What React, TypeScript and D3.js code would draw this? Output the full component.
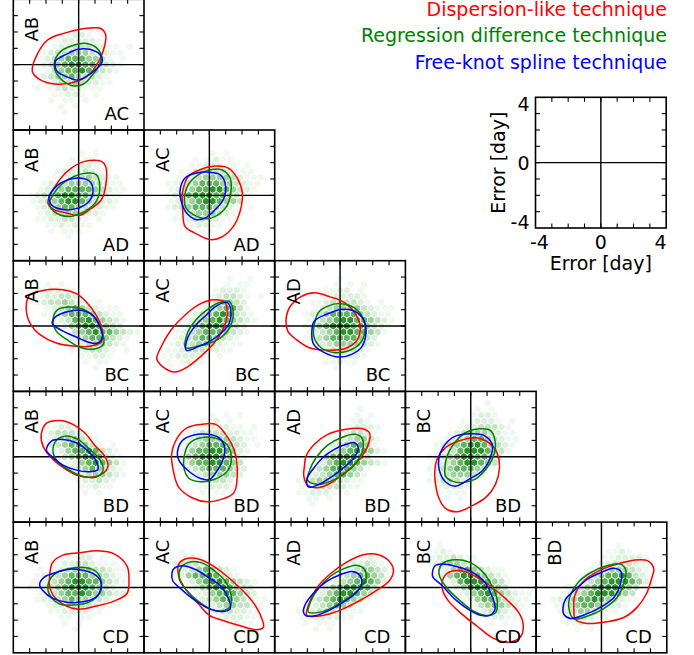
import * as d3 from "d3";
import { useEffect, useRef } from "react";

// variables on the x axis (one per column) and y axis (one per row)
const colVars = ["AB", "AC", "AD", "BC", "BD"];
const rowVars = ["AC", "AD", "BC", "BD", "CD"];
const techniques = ["Dispersion-like technique", "Regression difference technique", "Free-knot spline technique"];
const legendTicks = [-4, 0, 4];

// contour outlines in error days, panels ordered row by row, left to right
const dispersion = [
  [[-2.84,-0.39],[-1.98,1.45],[-0.76,1.96],[0.27,2.2],[1.39,2.2],[1.65,1.86],[1.59,1.14],[1.29,0.33],[0.67,-0.59],[-0.04,-1.0],[-1.27,-1.2],[-2.39,-0.9]],
  [[-1.88,-0.47],[-1.16,0.96],[-0.45,1.67],[0.37,2.08],[1.39,2.08],[1.65,1.78],[1.65,0.55],[1.39,-0.27],[0.67,-0.88],[0.06,-1.22],[-0.76,-1.08],[-1.57,-0.84]],
  [[-1.49,-1.9],[-1.63,-0.88],[-1.63,0.24],[-1.29,1.16],[-0.57,1.57],[0.24,1.78],[1.16,1.67],[1.71,1.06],[2.02,0.14],[1.88,-0.98],[1.47,-1.9],[0.76,-2.55],[0.04,-2.71],[-0.88,-2.31]],
  [[-3.2,1.37],[-3.0,1.88],[-2.18,2.18],[-0.96,2.22],[-0.14,1.98],[0.47,1.47],[1.08,0.65],[1.45,-0.27],[1.39,-0.98],[0.67,-1.24],[-0.35,-1.22],[-1.37,-1.04],[-2.39,-0.51],[-2.9,0.04],[-3.16,0.65]],
  [[-3.22,-2.0],[-2.98,-1.33],[-2.37,-0.27],[-1.45,0.71],[-0.53,1.37],[0.29,1.61],[0.94,1.47],[1.1,0.86],[0.86,-0.16],[0.29,-1.04],[-0.53,-1.86],[-1.35,-2.51],[-2.12,-2.82],[-2.88,-2.47]],
  [[-3.31,0.31],[-3.1,1.12],[-2.39,1.8],[-1.57,2.04],[-0.65,1.8],[0.27,1.43],[1.0,0.65],[1.24,-0.2],[1.0,-0.92],[0.27,-1.39],[-0.96,-1.47],[-1.88,-1.33],[-2.69,-0.82],[-3.2,-0.31]],
  [[-2.29,1.37],[-1.98,2.04],[-1.16,2.22],[-0.35,1.98],[0.37,1.47],[0.98,0.71],[1.59,0.04],[1.8,-0.57],[1.45,-1.04],[0.78,-1.24],[0.06,-1.18],[-0.76,-0.78],[-1.57,-0.16],[-2.18,0.65]],
  [[-2.31,0.14],[-1.96,1.16],[-1.35,1.78],[-0.53,1.98],[0.39,1.98],[1.0,1.37],[1.51,0.45],[1.71,-0.71],[1.51,-2.2],[0.9,-2.55],[-0.12,-2.76],[-1.06,-2.51],[-1.88,-1.86],[-2.2,-0.88]],
  [[-2.18,-0.57],[-2.08,0.04],[-1.57,0.76],[-0.76,1.37],[0.27,1.67],[1.29,1.73],[1.8,1.47],[1.69,0.65],[1.08,-0.27],[0.27,-0.98],[-0.55,-1.59],[-1.37,-1.9],[-1.98,-1.73],[-2.22,-1.18]],
  [[-2.2,-0.88],[-2.06,-0.16],[-1.55,0.55],[-0.73,0.96],[0.29,1.16],[1.1,0.86],[1.61,0.24],[1.76,-0.67],[1.51,-1.69],[0.94,-2.47],[0.12,-2.98],[-0.84,-3.37],[-1.55,-3.16],[-1.96,-2.51],[-2.16,-1.65]],
  [[-1.78,0.65],[-1.61,1.51],[-0.96,1.98],[0.06,2.12],[1.18,2.24],[2.2,2.04],[2.96,1.31],[3.08,0.55],[2.96,-0.37],[2.2,-0.82],[1.08,-1.14],[-0.04,-1.33],[-0.86,-1.08],[-1.57,-0.47],[-1.78,0.08]],
  [[-1.88,1.43],[-1.43,1.76],[-0.61,1.73],[0.2,1.33],[1.02,0.73],[1.84,0.0],[2.61,-0.82],[3.1,-1.63],[3.31,-2.45],[2.86,-2.59],[1.84,-2.33],[1.02,-2.08],[0.0,-1.71],[-0.71,-0.96],[-1.53,0.0],[-1.88,0.73]],
  [[-2.04,-1.71],[-1.94,-1.1],[-1.43,-0.04],[-0.61,0.82],[0.41,1.55],[1.43,2.0],[2.35,2.0],[3.06,1.55],[3.27,1.02],[3.02,0.41],[2.24,-0.18],[1.22,-0.8],[0.2,-1.31],[-0.61,-1.61],[-1.43,-1.76]],
  [[-1.73,0.41],[-1.43,0.88],[-0.61,1.02],[0.31,0.67],[1.16,0.12],[2.14,-0.69],[2.92,-1.51],[3.2,-2.18],[3.06,-3.0],[2.24,-3.35],[1.37,-3.1],[0.41,-2.39],[-0.61,-1.57],[-1.37,-0.82],[-1.73,-0.14]],
  [[-1.69,-1.29],[-1.63,-0.47],[-0.98,0.49],[-0.06,1.06],[0.96,1.43],[1.98,1.67],[2.84,1.63],[3.2,1.16],[3.04,0.45],[2.76,-0.37],[2.18,-1.22],[1.37,-1.84],[0.35,-2.1],[-0.88,-2.2],[-1.59,-1.96]],
];

const regression = [
  [[-1.47,0.22],[-1.06,0.84],[-0.45,1.14],[0.37,1.31],[1.08,1.04],[1.39,0.53],[1.29,0.02],[0.88,-0.59],[0.27,-1.2],[-0.45,-1.27],[-1.16,-0.8],[-1.47,-0.29]],
  [[-1.78,-0.57],[-1.27,0.45],[-0.65,0.96],[0.27,1.33],[1.08,1.27],[1.29,0.55],[1.08,-0.37],[0.37,-0.98],[-0.55,-1.29],[-1.37,-1.08]],
  [[-1.53,-0.27],[-1.29,0.65],[-0.67,1.27],[0.04,1.57],[0.76,1.57],[1.27,1.06],[1.31,0.14],[1.06,-0.67],[0.55,-1.18],[-0.16,-1.43],[-0.98,-1.18],[-1.43,-0.78]],
  [[-1.57,0.35],[-1.33,0.96],[-0.65,1.16],[0.16,1.06],[0.88,0.65],[1.33,-0.06],[1.53,-1.08],[1.04,-1.39],[0.16,-1.33],[-0.65,-0.88],[-1.37,-0.31]],
  [[-1.45,-1.33],[-1.39,-0.57],[-0.84,0.35],[-0.12,1.0],[0.53,1.41],[1.2,1.51],[1.45,0.96],[1.31,0.04],[0.8,-0.63],[0.08,-1.02],[-0.73,-1.24]],
  [[-1.57,0.1],[-1.33,0.82],[-0.76,1.22],[0.06,1.37],[0.88,1.12],[1.39,0.51],[1.53,-0.31],[1.18,-1.12],[0.47,-1.53],[-0.35,-1.63],[-1.16,-1.33],[-1.61,-0.61]],
  [[-1.57,0.31],[-1.37,1.0],[-0.76,1.27],[-0.04,1.06],[0.67,0.45],[1.29,-0.16],[1.49,-0.84],[1.08,-1.24],[0.27,-1.2],[-0.55,-0.84],[-1.27,-0.31]],
  [[-1.55,-0.02],[-1.24,0.8],[-0.53,1.16],[0.29,1.16],[1.06,0.76],[1.35,-0.06],[1.1,-0.88],[0.29,-1.39],[-0.53,-1.53],[-1.24,-1.33],[-1.55,-0.71]],
  [[-1.98,-1.45],[-1.88,-0.88],[-1.47,-0.06],[-0.76,0.71],[0.06,1.16],[0.88,1.37],[1.33,1.16],[1.39,0.39],[0.98,-0.37],[0.27,-1.04],[-0.55,-1.49],[-1.37,-1.69]],
  [[-1.59,-0.88],[-1.45,0.04],[-0.94,0.92],[-0.33,1.47],[0.49,1.71],[1.2,1.61],[1.51,0.76],[1.31,-0.16],[0.86,-0.84],[0.24,-1.39],[-0.53,-1.59],[-1.14,-1.49],[-1.55,-1.18]],
  [[-1.88,-0.16],[-1.78,0.45],[-1.27,0.96],[-0.55,1.16],[0.37,1.22],[1.08,0.96],[1.39,0.35],[1.29,-0.37],[0.67,-0.88],[-0.35,-1.08],[-1.16,-1.02],[-1.67,-0.61]],
  [[-1.84,0.53],[-1.73,1.22],[-1.22,1.55],[-0.41,1.49],[0.31,1.02],[0.98,0.37],[1.33,-0.45],[1.27,-1.16],[0.82,-1.43],[0.1,-1.33],[-0.71,-0.82],[-1.43,-0.14]],
  [[-1.94,-1.51],[-1.8,-0.86],[-1.39,-0.14],[-0.61,0.67],[0.2,1.14],[1.06,1.35],[1.47,1.14],[1.59,0.53],[1.22,-0.04],[0.45,-0.69],[-0.41,-1.2],[-1.22,-1.51]],
  [[-1.94,1.08],[-1.69,1.49],[-0.92,1.69],[-0.1,1.55],[0.71,0.98],[1.29,0.12],[1.63,-0.86],[1.49,-1.57],[0.92,-1.71],[0.2,-1.47],[-0.71,-0.76],[-1.53,0.06],[-1.9,0.67]],
  [[-2.0,-1.22],[-1.9,-0.47],[-1.39,0.35],[-0.67,0.9],[0.14,1.27],[1.16,1.43],[1.49,1.06],[1.37,0.24],[0.96,-0.61],[0.14,-1.29],[-0.88,-1.76],[-1.69,-1.92]],
];

const spline = [
  [[-1.41,0.22],[-0.76,0.63],[-0.04,0.94],[0.67,0.94],[1.29,0.63],[1.45,0.22],[1.18,-0.18],[0.67,-0.59],[-0.04,-0.94],[-0.76,-0.73],[-1.33,-0.39]],
  [[-1.82,-0.16],[-1.37,0.55],[-0.65,0.96],[0.06,1.06],[0.67,0.86],[0.88,0.24],[0.63,-0.37],[-0.04,-0.78],[-0.86,-0.88],[-1.61,-0.63]],
  [[-1.8,0.24],[-1.49,1.06],[-0.78,1.37],[0.04,1.41],[0.65,1.27],[0.96,0.76],[0.9,-0.16],[0.45,-0.78],[-0.16,-1.33],[-0.78,-1.49],[-1.39,-1.08],[-1.69,-0.47]],
  [[-1.61,0.14],[-1.47,0.51],[-0.76,0.86],[0.06,0.96],[0.78,0.71],[1.24,0.1],[1.45,-0.67],[1.18,-1.04],[0.57,-0.98],[-0.14,-0.67],[-0.96,-0.31]],
  [[-1.41,-1.49],[-1.35,-0.78],[-0.84,0.04],[-0.22,0.65],[0.49,1.27],[1.1,1.43],[1.31,0.96],[1.2,0.14],[0.73,-0.43],[0.12,-0.88],[-0.63,-1.24]],
  [[-1.73,-0.41],[-1.57,0.31],[-0.86,0.71],[0.06,1.02],[0.88,0.92],[1.45,0.37],[1.59,-0.31],[1.33,-1.27],[0.71,-1.73],[-0.04,-1.9],[-0.96,-1.63],[-1.61,-1.12]],
  [[-1.98,0.39],[-1.67,0.96],[-0.96,1.06],[-0.14,0.86],[0.57,0.35],[1.08,-0.27],[1.18,-0.78],[0.63,-0.92],[-0.14,-0.82],[-0.96,-0.51],[-1.67,0.04]],
  [[-1.96,0.24],[-1.65,1.0],[-0.94,1.33],[-0.12,1.37],[0.59,1.16],[0.94,0.55],[0.8,-0.27],[0.39,-0.98],[0.04,-1.39],[-0.53,-1.33],[-1.31,-0.84],[-1.86,-0.22]],
  [[-1.98,-1.8],[-2.02,-1.33],[-1.67,-0.78],[-1.06,-0.06],[-0.35,0.45],[0.37,0.76],[0.88,0.86],[1.12,0.51],[0.88,-0.02],[0.27,-0.63],[-0.45,-1.18],[-1.16,-1.63],[-1.78,-1.86]],
  [[-1.96,-0.16],[-1.71,0.55],[-1.04,1.22],[-0.02,1.41],[0.8,1.31],[1.31,0.76],[1.2,-0.06],[0.73,-0.84],[-0.02,-1.33],[-0.94,-1.8],[-1.55,-1.53],[-1.92,-0.84]],
  [[-2.39,0.2],[-2.08,0.65],[-1.37,0.92],[-0.55,1.12],[0.22,1.06],[0.88,0.86],[1.33,0.41],[1.35,-0.12],[1.04,-0.61],[0.27,-0.88],[-0.76,-0.9],[-1.57,-0.67],[-2.18,-0.2]],
  [[-2.29,0.88],[-2.14,1.18],[-1.63,1.33],[-0.82,1.08],[0.0,0.57],[0.71,0.06],[1.18,-0.69],[1.27,-1.31],[0.82,-1.47],[0.0,-1.31],[-0.92,-0.76],[-1.73,-0.1],[-2.24,0.41]],
  [[-2.24,-1.51],[-2.14,-1.06],[-1.63,-0.35],[-0.82,0.37],[0.0,0.78],[0.71,0.98],[1.18,0.78],[1.33,0.27],[1.02,-0.29],[0.2,-0.9],[-0.61,-1.37],[-1.53,-1.73],[-2.08,-1.73]],
  [[-2.35,0.88],[-2.18,1.33],[-1.69,1.43],[-0.92,1.29],[0.0,0.98],[0.82,0.37],[1.29,-0.49],[1.49,-1.31],[1.16,-1.71],[0.61,-1.71],[-0.1,-1.37],[-0.92,-0.76],[-1.84,0.2],[-2.31,0.61]],
  [[-2.35,-1.22],[-2.2,-0.73],[-1.59,-0.12],[-0.88,0.49],[-0.06,0.9],[0.76,1.18],[1.2,0.96],[1.16,0.2],[0.76,-0.61],[-0.06,-1.22],[-1.08,-1.69],[-1.9,-1.9],[-2.31,-1.63]],
];

// hexbin shading level per cell (0-6), rows top to bottom, same panel order
const hexCounts = [
  ["................","................",
   "........1........",".......11.1......","......1221.1.....",".....12222211....","....1223332211.1.",
   "...123344432211..","..12345554431.1..","..1234566554321..","...13455654321...","..12344543321....",
   "...1233432211....","..1.12322111.....","....11221.1......","....1.11.1.......",".....1.1.........",
   "......1..........","................."],
  [".................",".................",
   "........1.1......",".......1.11......","......11221.1....",".....1222321.....","....1123343211...",
   "...122344443211..","..1234555543211..",".12345665543211..",".1234566543221...","..123455432211...",
   "..1233443221.....","..11223321.1.....","...1121211.......","....1.111........","......1..........",
   ".................","................."],
  [".................",".................",
   "........1.1......","......1.1211.....",".....1122211.1...","....11233332111..","...1123444432111.",
   "..11234555443211.","..1234556654321..","..1245666554321..","..123456654431...","..12345554321.1..",
   "...1234443211....","...1123322111....","....112211.1.....",".....1.11........",".....1...........",
   ".................","................."],
  [".................",".................",
   "...1.1...........","..112211.........","..1223321........","..12334321.1.....","...12345432111...",
   "...112455543211..","....12355654321..",".....1245665432..","......13456554321","......1234554321.",
   ".......12344321..",".......1123321.1.","........11221....",".........1.11....","..........1......",
   ".................","................."],
  [".................","...........1..1..",
   "..........1.11...",".........12221...","........123321.1.",".......1234432...","......12345531...",
   ".....1234565321..","....12345654321..","....1245665432...","...12345554321...","...1234554321....",
   "..12334432111....","..1123332211.....",".1122221.1.......","..1.1211.........","..1.1............",
   ".................","................."],
  [".................","........1........",
   ".......1.1.1.....","......1122.1.....",".....1122221.....","....112333321.1..","....123444432111.",
   "...1234555543211.","...1234566554321.","...1245666554321.","...123456655431..","...12345555432...",
   "....1234444321...","....112333321....",".....1122221.....","......11211......",".......1.........",
   ".................","................."],
  [".................",".................",
   ".................","....1.1..........","...11221.........","...1233321.......","...12344321......",
   "...123455431.1...","....1245565321...",".....1345665321..","......124565431..","......123454321..",
   ".......12344321..","........122321...","........11211....",".........1.1.....",".................",
   ".................","................."],
  [".................",".................",
   "........1.1.1....",".......112.1.....","......1122211.1..",".....1233332211..","....12344443211..",
   "....1234555432.1.","...12455665421...","...12456665431...","...1245566543....","....1234555432...",
   ".....12344432....",".....1123332.....","......112221.....",".......1.11......","........1........",
   ".................","................."],
  [".................","...........1.....",
   "..........1.1....","..........121....",".........12221...","........123321...",".......1234431...",
   "......12345541...",".....1234565421..","....124566653....","....12456654321..","...1234565431....",
   "...123455431.....","..1234443211.....","..112333211......","..11222111.......","...11.1..........",
   "....1............","................."],
  ["..........1......",".........1.1.....",
   "........1221.....",".......112221.1..","......12233321...",".....1234443211..","....12345543211..",
   "...123456654321..","...12356665431...","..12345665543....","..1234566543.....","..123455543......",
   "..12344432.......","..1233321........","...12221.........","...1.111.........","....1.1..........",
   ".................","................."],
  [".................",".................",
   ".................","........1.1......","......1122.1.....","....1122332111...","..1.123444332111.",
   "..12234555443211.",".112345665543211.",".112345666543211.","..12345565443221.","..1223454433211..",
   "...1223333221....","....11222211.....",".....11.11.......","......1.1........",".......1.........",
   ".................","................."],
  [".................",".................",
   ".................","..1.1............","..11221..........","..12333211.......","...123454321.....",
   "...1245565321....","....12456654321..",".....1245665432..","......124565432..","......12345543211",
   ".......123443321.","........12332211.",".........1222111.","..........11211..","...........1.1...",
   ".................","................."],
  [".................",".................",
   ".................","...........1.....","..........1121...",".........122321..","........12344321.",
   ".......123455431.","......1234565421.",".....1245666531..","....1245665431...","...1234565431....",
   "...12345431......","..1123332111.....","..11222211.......","...1.111.........","....1.1..........",
   ".................","................."],
  [".................",".................",
   "...1.............","..1121...........","..1223211........","..12344321.......","...1245543211....",
   "...12456654321...","....1256665431...",".....124666543...","......12456543211",".......1245543211",
   "........13454321.",".........1233211.","..........122111.","...........1.1...",".................",
   ".................","................."],
  [".................",".................",
   "..........1......",".........1121....","........1122221..",".......12233321..","......123444321..",
   ".....12345565321.","....123456665421.","...12345666543...","..12345666543....",".1234556543211...",
   ".12345543221.....","..123443211......","..1223211........","...11211.........","....1.1..........",
   ".................","................."],
];

export default function App() {
  const svgRef = useRef(null);

  useEffect(() => {
    const svg = d3.select(svgRef.current);
    svg.selectAll("*").remove();

    const size = 130.7;
    const left0 = 13.3;
    const top0 = -0.7;
    const font = "DejaVu Sans, sans-serif";
    const lineColors = ["#ff0000", "#008000", "#0000ff"];
    const hexColors = ["none", "#f1f8f1", "#e0f0df", "#c6e4c5", "#9fd19e", "#62b462", "#2a922a"];
    const dx = 0.42, dy = 0.364; // hex spacing in data units

    const drawFrame = (g, x, y) => {
      const [xa, xb] = x.range();
      const [ya, yb] = y.range(); // ya bottom, yb top
      const tl = 4.5;
      const ticks = x.ticks(8).filter((t) => t > -4 && t < 4);
      ticks.forEach((t) => {
        g.append("line").attr("x1", x(t)).attr("x2", x(t)).attr("y1", yb).attr("y2", yb + tl);
        g.append("line").attr("x1", x(t)).attr("x2", x(t)).attr("y1", ya).attr("y2", ya - tl);
        g.append("line").attr("y1", y(t)).attr("y2", y(t)).attr("x1", xa).attr("x2", xa + tl);
        g.append("line").attr("y1", y(t)).attr("y2", y(t)).attr("x1", xb).attr("x2", xb - tl);
      });
      g.selectAll("line").attr("stroke", "#000").attr("stroke-width", 1.1);
      g.append("line").attr("x1", x(0)).attr("x2", x(0)).attr("y1", ya).attr("y2", yb)
        .attr("stroke", "#000").attr("stroke-width", 1.4);
      g.append("line").attr("x1", xa).attr("x2", xb).attr("y1", y(0)).attr("y2", y(0))
        .attr("stroke", "#000").attr("stroke-width", 1.4);
      g.append("rect")
        .attr("x", xa).attr("y", yb)
        .attr("width", xb - xa).attr("height", ya - yb)
        .attr("fill", "none").attr("stroke", "#000").attr("stroke-width", 1.6);
    };

    let p = 0;
    rowVars.forEach((rv, r) => {
      colVars.forEach((cv, c) => {
        if (c > r) return;
        const idx = p++;
        const x0 = left0 + c * size;
        const y0 = top0 + r * size;
        const x = d3.scaleLinear().domain([-4, 4]).range([x0, x0 + size]);
        const y = d3.scaleLinear().domain([-4, 4]).range([y0 + size, y0]);
        const g = svg.append("g");

        // hexbin density
        const cells = [];
        hexCounts[idx].forEach((row, m) => {
          for (let k = 0; k < row.length; k++) {
            const lv = +row[k];
            if (!lv) continue;
            cells.push({ cx: (k - 8) * dx + (m % 2 === 0 ? dx / 2 : 0), cy: (9 - m) * dy, lv });
          }
        });
        const hexLine = d3.line();
        g.append("g")
          .selectAll("path")
          .data(cells)
          .join("path")
          .attr("d", (d) => hexLine([
            [x(d.cx), y(d.cy + (2 * dy) / 3)],
            [x(d.cx + dx / 2), y(d.cy + dy / 3)],
            [x(d.cx + dx / 2), y(d.cy - dy / 3)],
            [x(d.cx), y(d.cy - (2 * dy) / 3)],
            [x(d.cx - dx / 2), y(d.cy - dy / 3)],
            [x(d.cx - dx / 2), y(d.cy + dy / 3)],
          ]) + "Z")
          .attr("fill", (d) => hexColors[d.lv])
          .attr("stroke", "#fff")
          .attr("stroke-width", 0.8);

        drawFrame(g.append("g"), x, y);

        // contours
        const contour = d3.line()
          .x((d) => x(d[0]))
          .y((d) => y(d[1]))
          .curve(d3.curveCatmullRomClosed.alpha(0.5));
        [dispersion, regression, spline].forEach((set, i) => {
          g.append("path")
            .attr("d", contour(set[idx]))
            .attr("fill", "none")
            .attr("stroke", lineColors[i])
            .attr("stroke-width", 1.5);
        });

        g.append("text")
          .attr("transform", `translate(${x0 + 25},${y0 + 17.5}) rotate(-90)`)
          .attr("text-anchor", "end")
          .attr("font-family", font)
          .attr("font-size", 18)
          .text(cv);
        g.append("text")
          .attr("x", x0 + size - 15)
          .attr("y", y0 + size - 10)
          .attr("text-anchor", "end")
          .attr("font-family", font)
          .attr("font-size", 18)
          .text(rv);
      });
    });

    // legend
    techniques.forEach((t, i) => {
      svg.append("text")
        .attr("x", 667)
        .attr("y", 15.5 + i * 26.5)
        .attr("text-anchor", "end")
        .attr("font-family", font)
        .attr("font-size", 19)
        .attr("fill", lineColors[i])
        .text(t);
    });

    // scale key axes
    const kx0 = 535.5, ky0 = 97.3;
    const kx = d3.scaleLinear().domain([-4, 4]).range([kx0, kx0 + size]);
    const ky = d3.scaleLinear().domain([-4, 4]).range([ky0 + size, ky0]);
    const kg = svg.append("g");
    drawFrame(kg.append("g"), kx, ky);
    const lab = kg.append("g").attr("font-family", font).attr("font-size", 19);
    legendTicks.forEach((t, i) => {
      const dyOff = i === 0 ? 0.5 : i === 2 ? 13.5 : 7;
      lab.append("text")
        .attr("x", kx0 - 6)
        .attr("y", ky(t) + dyOff)
        .attr("text-anchor", "end")
        .text(t);
      lab.append("text")
        .attr("x", kx(t) + (i === 0 ? -5.5 : i === 2 ? 0.5 : 0))
        .attr("y", ky0 + size + 21)
        .attr("text-anchor", i === 0 ? "start" : i === 2 ? "end" : "middle")
        .text(t);
    });
    lab.append("text")
      .attr("x", kx(0))
      .attr("y", ky0 + size + 42)
      .attr("text-anchor", "middle")
      .text("Error [day]");
    lab.append("text")
      .attr("transform", `translate(${kx0 - 30.5},${ky(0)}) rotate(-90)`)
      .attr("text-anchor", "middle")
      .text("Error [day]");
  }, []);

  return (
    <svg
      ref={svgRef}
      width={694}
      height={655}
      style={{ position: "absolute", left: 0, top: 0, background: "#fff" }}
    />
  );
}
